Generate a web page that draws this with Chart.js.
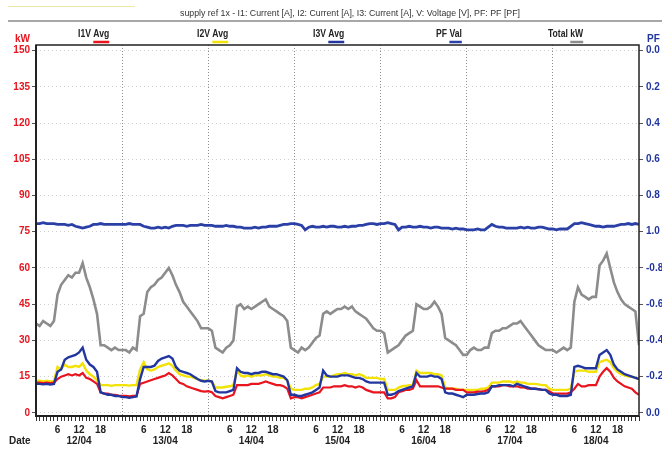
<!DOCTYPE html>
<html><head><meta charset="utf-8">
<script src="https://cdn.jsdelivr.net/npm/chart.js@4"></script>
<style>html,body{margin:0;padding:0;background:#fff}canvas{display:block}</style>
</head><body>
<canvas id="c" width="662" height="450"></canvas>
<script>
const FONT = "'Liberation Sans Narrow','Arial Narrow','Liberation Sans',Arial,sans-serif";

const chartTitle = 'supply ref 1x - I1: Current [A], I2: Current [A], I3: Current [A], V: Voltage [V], PF: PF [PF]';
const dateLabels = ['12/04','13/04','14/04','15/04','16/04','17/04','18/04'];
const hourLabels = [6, 12, 18];
const kwTicks = [0,15,30,45,60,75,90,105,120,135,150];
const pfTickPos = [0,0.2,0.4,0.6,0.8,1.0,1.2,1.4,1.6,1.8,2.0];
const pfTickLabels = ['0.0','-0.2','-0.4','-0.6','-0.8','1.0','0.8','0.6','0.4','0.2','0.0'];
const seriesNames = ['I1V Avg','I2V Avg','I3V Avg','PF Val','Total kW'];

// hours since 12/04 00:00
const hours = Array.from({length: 169}, (_, i) => i);

const i1 = [
 12.5,12.5,12.3,12.5,12.3,12.5,14,15,15.5,16,15.5,16,15.5,16.5,14.5,14,13,12,8.5,8,8,7.5,7.5,7.2,
 7,7,6.8,7,7,12,12.5,13,13.5,14,14.5,15,15.5,16.5,15.5,14,12.5,12,11,10.5,10,9.5,9,8.8,
 9,8.5,7,6.5,6,6.5,7,7.5,11.5,11.5,11.5,11.5,12,12,12,12.5,13,12.5,12,11.5,11.5,11,10,6,
 6.5,6.5,6,6.5,7,7.5,8,8.5,10.5,10.5,10.5,11,11,11,11.5,11,11,10.5,11,10.5,9.5,9,8.5,8.5,
 8.5,8.5,6,6,6.5,8.5,9,9.5,9.5,10,13.5,11,11,11,11,11,11,10.5,10,10,10,9.5,9.5,9.5,
 8.5,8.5,8.5,8.8,8.8,9,9.5,11,11,11,11.5,11.5,11,11,11,10.5,10.5,10,10,10,9.8,9.5,9.5,9,
 8,8,8,8,8,8.5,10,12,11,11,11.5,11.5,11.5,15,17,18.5,17,14.5,13,12,11,10.5,10,8.5,7.5
];
const i2 = [
 13.3,13.3,13,13.3,13,13.2,19,18,20,19,19,19.5,19,20.5,17.5,16,15,13.5,11.5,11.5,11.5,11.2,11.5,11.5,
 11.5,11.5,11.3,11.5,11.5,18,21,18,17.5,18,19,19.5,20,20.5,19.5,17.5,16,15.5,15,15,14.5,14,13.5,13.3,
 13.3,13,10.5,10.5,10.5,10.8,11,11.5,17.5,15.5,15,15.5,15,15.5,15.5,15.5,16,15.5,15,15,14.5,14.5,13.5,10,
 9.5,9.5,9.5,10,10,10.5,11.5,12,15,15,15,15.5,16,16,16.5,16,16,15.5,16,15.5,14.5,14.5,14.5,14.5,
 14,14,9.5,9.5,9.5,10.5,11,11.2,11.5,11.5,17.5,16.5,16.5,16.5,16.5,16,16,15.5,10.5,10,10,10,9.5,9.5,
 9.5,9.5,9.5,9.5,10,10,10.5,12.5,12.5,12.5,13,13,13,12.5,13,12.5,12.5,12,12,12,11.8,11.5,11.5,10,
 9.5,9.5,9.5,9.5,9.5,10,17,17.5,17.5,17.5,17,17,17,21,21.5,22,21,18.5,17,16,15.5,15,15,14.5,14
];
const i3 = [
 12,12,11.8,12,11.7,12,17,18,22,23,23.5,24,25,27,22,20,19,17,8.5,8,7.5,7.5,7,7,
 6.5,6.5,6.2,6.5,6.8,14,19,19,19,19.5,21.5,22.5,23,23.5,22.5,19,17.5,17,16.5,16,15,14,13.3,13,
 13.3,13,9,8.5,8.5,8.5,9,9.5,18.5,17,16.5,16.5,16,16.5,16.5,17,17,16.5,16,16,15.5,15,13.5,7.5,
 7.5,7,7,7.5,8,8.5,9.5,10.5,17.5,15.5,15,15,15,15.5,15.5,15.5,15,14.5,14.5,14,13,12.5,12.5,12.5,
 12.5,12.5,7.5,7.5,8,9,9.5,10,10.5,11,16.5,15,15,15,15.5,15,15,14,8.5,8,8,7.5,7,6.5,
 7.5,7.5,7.5,7.8,8,8,8.5,11,11,11.5,11.5,11.5,11.5,11,12,11.5,11,10.5,10,10,9.8,9.5,9.5,8,
 7.5,7.5,7,7,7,7.5,19,19.5,19,18.5,18.5,18.5,18.5,24,25,26,24,20,18,17,16,15.5,15,14.5,14
];
const pfVal = [
 0.955,0.955,0.95,0.955,0.955,0.955,0.96,0.96,0.96,0.965,0.96,0.97,0.975,0.98,0.975,0.97,0.96,0.96,0.955,0.96,0.96,0.96,0.96,0.96,
 0.96,0.96,0.955,0.96,0.96,0.96,0.97,0.975,0.98,0.98,0.975,0.98,0.975,0.98,0.97,0.965,0.965,0.965,0.97,0.965,0.965,0.965,0.96,0.965,
 0.965,0.965,0.97,0.97,0.97,0.965,0.97,0.97,0.975,0.975,0.98,0.98,0.98,0.975,0.98,0.975,0.975,0.97,0.97,0.97,0.965,0.96,0.96,0.955,
 0.955,0.96,0.965,0.99,0.975,0.97,0.975,0.975,0.97,0.975,0.97,0.97,0.975,0.975,0.97,0.975,0.97,0.97,0.965,0.965,0.96,0.955,0.955,0.96,
 0.955,0.955,0.95,0.955,0.96,0.99,0.975,0.975,0.97,0.975,0.975,0.97,0.975,0.975,0.98,0.975,0.975,0.98,0.98,0.98,0.985,0.98,0.985,0.985,
 0.99,0.99,0.99,0.985,0.99,0.99,0.975,0.96,0.97,0.975,0.975,0.98,0.98,0.98,0.98,0.975,0.98,0.975,0.98,0.98,0.975,0.975,0.98,0.985,
 0.985,0.99,0.985,0.985,0.985,0.97,0.955,0.955,0.95,0.955,0.96,0.965,0.97,0.97,0.975,0.97,0.97,0.97,0.965,0.96,0.96,0.955,0.96,0.955,0.96
];
const totalKW = [
 37,36,38,37,36,38,49,53,55,57,56,58,58,62,56,52,47,41,28,28,27,26,27,26,
 26,26,25,27,26,40,41,50,52,53,55,56,58,60,57,53,50,46,44,42,40,38,35,35,
 35,34,27,26,25,27,28,30,44,45,43,44,43,44,45,46,47,44,43,42,41,40,38,27,
 26,25,27,26,27,29,31,32,41,42,41,42,43,43,44,43,44,42,41,40,39,37,35,34,
 34,33,25,26,27,28,30,32,33,34,45,44,43,43,44,46,44,41,31,30,29,28,26,24,
 24,26,27,26,26,27,27,33,34,34,35,35,36,37,37,38,36,34,32,30,28,27,26,26,
 26,25,26,27,26,27,46,52,49,48,47,48,48,61,63,66,60,54,50,47,45,44,43,42,28
];

const COL_RED = '#e8141e', COL_YEL = '#f2e205', COL_BLU = '#2236a0', COL_PF = '#2b40a6', COL_GRY = '#8c8c8c';
const legendColors = [COL_RED, COL_YEL, COL_BLU, COL_PF, COL_GRY];
const legendX = [78, 197, 313, 436, 548];

// PF wrap-around axis: leading (negative) in lower half, lagging (positive) in upper half
const pfPos = v => v < 0 ? -v : 2 - v;
const pts = arr => arr.map((v, i) => ({x: hours[i], y: v}));

const KW_MIN = -1.3, KW_MAX = 152.3;

const decor = {
  id: 'decor',
  afterDraw(chart) {
    const ctx = chart.ctx, a = chart.chartArea;
    ctx.save();
    // frame
    ctx.strokeStyle = '#222';
    ctx.lineWidth = 1.5;
    ctx.strokeRect(a.left, a.top, a.right - a.left, a.bottom - a.top);
    ctx.lineWidth = 2;
    ctx.beginPath();
    ctx.moveTo(a.left, a.top); ctx.lineTo(a.left, a.bottom); ctx.lineTo(a.right, a.bottom);
    ctx.stroke();
    // header lines
    ctx.strokeStyle = '#f0e6a8'; ctx.lineWidth = 1;
    ctx.beginPath(); ctx.moveTo(8, 6.5); ctx.lineTo(135, 6.5); ctx.stroke();
    ctx.strokeStyle = '#8a8a8a'; ctx.lineWidth = 1.5;
    ctx.beginPath(); ctx.moveTo(8, 21); ctx.lineTo(662, 21); ctx.stroke();
    // title
    ctx.fillStyle = '#333';
    ctx.font = '9px ' + FONT;
    ctx.textBaseline = 'middle';
    ctx.textAlign = 'center';
    const tw = ctx.measureText(chartTitle).width;
    ctx.save();
    ctx.translate(350, 14);
    if (tw > 340) ctx.scale(340 / tw, 1);
    ctx.fillText(chartTitle, 0, 0);
    ctx.restore();
    // legend (uniformly condensed text)
    ctx.font = 'bold 10px ' + FONT;
    ctx.textAlign = 'left';
    const sx = 0.86;
    seriesNames.forEach((name, k) => {
      const x = legendX[k];
      ctx.save();
      ctx.translate(x, 34);
      ctx.scale(sx, 1);
      ctx.fillStyle = '#222';
      ctx.fillText(name, 0, 0);
      ctx.restore();
      const parts = name.split(' ');
      const w1 = ctx.measureText(parts[0] + ' ').width * sx;
      const w2 = ctx.measureText(parts[1]).width * sx;
      ctx.strokeStyle = legendColors[k];
      ctx.lineWidth = 2.5;
      ctx.beginPath(); ctx.moveTo(x + w1, 42); ctx.lineTo(x + w1 + w2, 42); ctx.stroke();
    });
    // axis unit labels
    ctx.font = 'bold 10px ' + FONT;
    ctx.fillStyle = COL_RED;
    ctx.textAlign = 'right';
    ctx.fillText('kW', 30, 39);
    ctx.fillStyle = COL_BLU;
    ctx.textAlign = 'left';
    ctx.fillText('PF', 647, 39);
    ctx.fillStyle = '#222';
    ctx.fillText('Date', 9, 441);
    ctx.restore();
  }
};

new Chart(document.getElementById('c'), {
  type: 'line',
  data: {
    datasets: [
      {label: seriesNames[0], data: pts(i1), borderColor: COL_RED, borderWidth: 2.2, order: 1, yAxisID: 'y'},
      {label: seriesNames[1], data: pts(i2), borderColor: COL_YEL, borderWidth: 2.4, order: 2, yAxisID: 'y'},
      {label: seriesNames[2], data: pts(i3), borderColor: COL_BLU, borderWidth: 2.4, order: 0, yAxisID: 'y'},
      {label: seriesNames[3], data: pts(pfVal.map(pfPos)), borderColor: COL_PF, borderWidth: 2.8, order: 0, yAxisID: 'pf'},
      {label: seriesNames[4], data: pts(totalKW), borderColor: COL_GRY, borderWidth: 2.6, order: 3, yAxisID: 'y'}
    ]
  },
  options: {
    responsive: false,
    animation: false,
    devicePixelRatio: 1,
    layout: {padding: {top: 45, left: 0, right: 0, bottom: 0}},
    elements: {point: {radius: 0}, line: {tension: 0, fill: false}},
    plugins: {legend: {display: false}, title: {display: false}, tooltip: {enabled: false}},
    scales: {
      x: {
        type: 'linear', min: 0, max: 168,
        afterBuildTicks: s => { s.ticks = hours.map(v => ({value: v})); },
        afterFit: s => { s.height = 34; },
        ticks: {
          autoSkip: false, maxRotation: 0, minRotation: 0, padding: 4,
          color: '#222', font: {family: FONT, size: 10, weight: 'bold', lineHeight: 1.1},
          callback: v => {
            const h = v % 24, d = Math.floor(v / 24);
            if (v >= 168 || !hourLabels.includes(h)) return '';
            return h === 12 ? [String(h), dateLabels[d]] : String(h);
          }
        },
        grid: {
          color: c => (c.tick && c.tick.value % 24 === 0 && c.tick.value > 0 && c.tick.value < 168) ? '#8f8f8f' : 'rgba(0,0,0,0)',
          tickColor: '#333', tickLength: 5, lineWidth: 1, tickWidth: 1
        },
        border: {display: false, dash: [1, 2]}
      },
      y: {
        position: 'left', min: KW_MIN, max: KW_MAX,
        afterBuildTicks: s => { s.ticks = kwTicks.map(v => ({value: v})); },
        afterFit: s => { s.width = 36; },
        ticks: {color: COL_RED, padding: 2, font: {family: FONT, size: 10, weight: 'bold'}},
        grid: {color: '#cdcdcd', tickColor: '#555', tickLength: 4, lineWidth: 1},
        border: {display: false, dash: [1, 3]}
      },
      pf: {
        position: 'right', min: KW_MIN / 75, max: KW_MAX / 75,
        afterBuildTicks: s => { s.ticks = pfTickPos.map(v => ({value: v})); },
        afterFit: s => { s.width = 23; },
        ticks: {
          color: COL_BLU, padding: 3, font: {family: FONT, size: 10, weight: 'bold'},
          callback: (v, i) => pfTickLabels[i]
        },
        grid: {drawOnChartArea: false, tickColor: '#555', tickLength: 4},
        border: {display: false}
      }
    }
  },
  plugins: [decor]
});
</script>
</body></html>
